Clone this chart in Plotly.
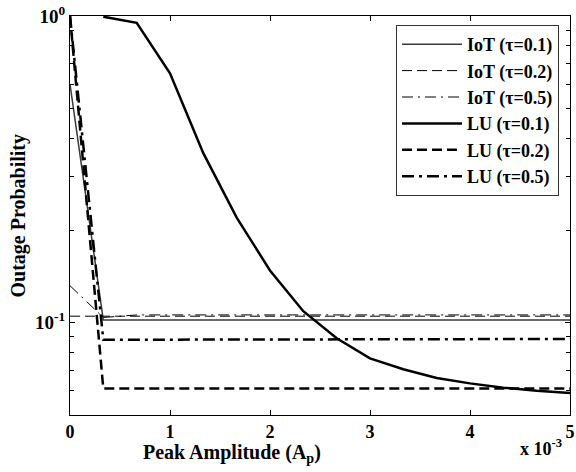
import plotly.graph_objects as go

# Peak amplitude (x 10^-3)
amp = [0.0, 0.333, 0.667, 1.0, 1.333, 1.667, 2.0, 2.333, 2.667, 3.0,
       3.333, 3.667, 4.0, 4.333, 4.667, 5.0]

iot_01 = [0.60, 0.102, 0.102, 0.102, 0.102, 0.102, 0.102, 0.102, 0.102, 0.102,
          0.102, 0.102, 0.102, 0.102, 0.102, 0.102]
iot_02 = [0.105, 0.105, 0.105, 0.105, 0.105, 0.105, 0.105, 0.105, 0.105, 0.105,
          0.105, 0.105, 0.105, 0.105, 0.105, 0.105]
iot_05 = [0.132, 0.104, 0.106, 0.106, 0.106, 0.106, 0.106, 0.106, 0.106, 0.106,
          0.106, 0.106, 0.106, 0.106, 0.106, 0.106]
lu_01 = [None, 0.995, 0.95, 0.65, 0.357, 0.22, 0.148, 0.109, 0.089, 0.0765,
         0.0705, 0.066, 0.0634, 0.0614, 0.060, 0.059]
lu_02 = [1.0, 0.061, 0.061, 0.061, 0.061, 0.061, 0.061, 0.061, 0.061, 0.061,
         0.061, 0.061, 0.061, 0.061, 0.061, 0.061]
lu_05 = [1.0, 0.088, 0.088, 0.088, 0.088, 0.088, 0.088, 0.088, 0.088, 0.088,
         0.088, 0.088, 0.088, 0.088, 0.088, 0.0885]

names = ["IoT (τ=0.1)", "IoT (τ=0.2)", "IoT (τ=0.5)",
         "LU (τ=0.1)", "LU (τ=0.2)", "LU (τ=0.5)"]

x_ticks = [0, 1, 2, 3, 4, 5]
y_ticks = [0.1, 1.0]
y_labels = ["10<sup>-1</sup>", "10<sup>0</sup>"]
y_minor = [0.05, 0.06, 0.07, 0.08, 0.09, 0.2, 0.3, 0.4, 0.5, 0.6, 0.7, 0.8, 0.9]

FONT = "Liberation Serif"

series = [iot_01, iot_02, iot_05, lu_01, lu_02, lu_05]
styles = [
    dict(color="#3a3a3a", width=1.5, dash="solid"),
    dict(color="black", width=1, dash="10px,5px"),
    dict(color="black", width=1, dash="11px,5px,2px,5px"),
    dict(color="black", width=2.5, dash="solid"),
    dict(color="black", width=2.5, dash="10px,5px"),
    dict(color="black", width=2.5, dash="12px,5px,3px,5px"),
]

fig = go.Figure()
for name, ys, st in zip(names, series, styles):
    fig.add_trace(go.Scatter(x=amp, y=ys, mode="lines", name=name, line=st,
                             connectgaps=False))

fig.update_layout(
    width=576, height=472,
    margin=dict(l=70, r=6, t=16, b=57, autoexpand=False),
    paper_bgcolor="white", plot_bgcolor="white",
    font=dict(family=FONT, size=19, color="black"),
    showlegend=True,
    legend=dict(
        x=(559 - 70) / 500, y=(415 - 25) / 399, xanchor="right", yanchor="top",
        bgcolor="white", bordercolor="#333333", borderwidth=1,
        font=dict(family=FONT, size=18, color="black", weight="bold"),
        tracegroupgap=0, itemwidth=60,
    ),
    xaxis=dict(
        range=[0, 5], tickvals=x_ticks, ticktext=[str(v) for v in x_ticks],
        ticks="inside", ticklen=5, tickcolor="black", showline=True, linecolor="black",
        linewidth=1.2, mirror="ticks", showgrid=False, zeroline=False, automargin=False,
        ticklabeloverflow="allow",
        tickfont=dict(family=FONT, size=18, weight="bold"),
    ),
    yaxis=dict(
        type="log", range=[-1.301, 0], tickvals=y_ticks, ticktext=y_labels,
        ticks="inside", ticklen=5, tickcolor="black", showline=True, linecolor="black",
        linewidth=1.2, mirror="ticks", showgrid=False, zeroline=False, automargin=False,
        ticklabeloverflow="allow",
        minor=dict(tickvals=y_minor, ticks="inside", ticklen=4, tickcolor="black",
                   showgrid=False),
        tickfont=dict(family=FONT, size=19, weight="bold"),
    ),
    annotations=[
        dict(text="Outage Probability", xref="paper", yref="paper",
             x=(18 - 70) / 500, y=0.5, xanchor="center", yanchor="middle",
             textangle=-90, showarrow=False,
             font=dict(family=FONT, size=20, weight="bold")),
        dict(text="Peak Amplitude (A<sub>p</sub>)", xref="paper", yref="paper",
             x=(232 - 70) / 500, y=(415 - 439) / 399, xanchor="center", yanchor="top",
             showarrow=False, font=dict(family=FONT, size=20, weight="bold")),
        dict(text="x 10<sup>-3</sup>", xref="paper", yref="paper",
             x=(564 - 70) / 500, y=(415 - 434) / 399, xanchor="right", yanchor="top",
             showarrow=False, font=dict(family=FONT, size=18, weight="bold")),
    ],
)

# remove the default 8px page margin so the figure sits at the window origin
fig.write_html("out.html", config={"displayModeBar": False},
               post_script="document.body.style.margin='0';")
